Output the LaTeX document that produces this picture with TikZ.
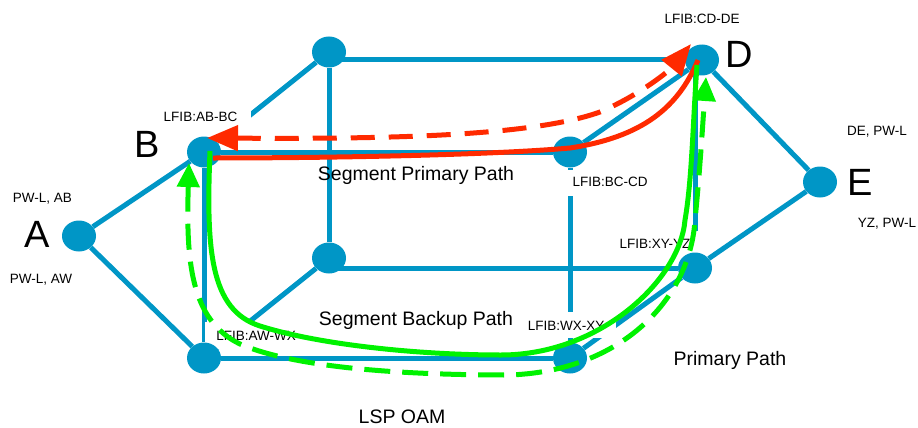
\documentclass[tikz,border=0pt]{standalone}
\usepackage{fontspec}
\setmainfont{Liberation Sans}
\usetikzlibrary{arrows.meta,shapes.geometric}
\definecolor{netblue}{RGB}{0,150,198}
\definecolor{pathred}{RGB}{255,42,0}
\definecolor{pathgreen}{RGB}{0,242,0}
\pgfdeclarelayer{edges}
\pgfdeclarelayer{boxes}
\pgfdeclarelayer{front}
\pgfsetlayers{edges,boxes,main,front}
\tikzset{
  router/.style={ellipse, fill=netblue, draw=none, minimum width=34pt, minimum height=31pt, inner sep=0pt},
  link/.style={draw=netblue, line width=5pt},
  lblbox/.style={fill=white, draw=none, inner sep=0pt},
  small/.style={anchor=base, inner sep=0pt, font=\fontsize{13.5}{16}\selectfont},
  mid/.style={anchor=base, inner sep=0pt, font=\fontsize{19.5}{23}\selectfont},
  big/.style={anchor=base, inner sep=0pt, font=\fontsize{38}{44}\selectfont},
  redline/.style={draw=pathred, line width=5pt},
  reddash/.style={draw=pathred, line width=5pt, dash pattern=on 24pt off 14pt,
    {Triangle[length=31pt,width=25pt]}-{Triangle[length=31pt,width=25pt]}},
  greenline/.style={draw=pathgreen, line width=5pt},
  greendash/.style={draw=pathgreen, line width=5pt, dash pattern=on 26pt off 12pt,
    {Triangle[length=24pt,width=22pt]}-{Triangle[length=24pt,width=22pt]}},
}
\begin{document}
\begin{tikzpicture}[x=1pt,y=-1pt]
\useasboundingbox (0,0) rectangle (918,428);
% routers
\node[router] (A)  at (79,236) {};
\node[router] (B)  at (204,152) {};
\node[router] (T)  at (329,52) {};
\node[router] (D)  at (702,60) {};
\node[router] (C)  at (570,152) {};
\node[router] (E)  at (820,182) {};
\node[router] (Q)  at (329,258) {};
\node[router] (XY) at (695,268) {};
\node[router] (W)  at (204,358) {};
\node[router] (X)  at (570,358) {};
% links
\begin{pgfonlayer}{edges}
\draw[link] (A) -- (B);
\draw[link] (A) -- (W);
\draw[link] (B) -- (T);
\draw[link] (T |- D) -- (D);
\draw[link] (T) -- (Q);
\draw[link] (B) -- (C);
\draw[link] (C) -- (D);
\draw[link] (D) -- (E);
\draw[link] (E) -- (XY);
\draw[link] (Q |- XY) -- (XY);
\draw[link] (C) -- (X);
\draw[link] (XY |- D) -- (XY);
\draw[link] (B) -- (W);
\draw[link] (W) -- (X);
\draw[link] (W) -- (Q);
\draw[link] (X) -- (XY);
\end{pgfonlayer}
% label boxes and labels
\begin{pgfonlayer}{boxes}
\node[lblbox, minimum width=101pt, minimum height=41pt] (bx1) at (200.5,122.5) {};
\node[lblbox, minimum width=98pt, minimum height=26pt] (bx2) at (607,183) {};
\node[lblbox, minimum width=91pt, minimum height=27pt] (bx3) at (655.5,244.5) {};
\node[lblbox, minimum width=96pt, minimum height=26pt] (bx4) at (568,325) {};
\node[lblbox, minimum width=100pt, minimum height=27pt] (bx5) at (255,335.5) {};
\node[small] (l1) at (200.5,121) {LFIB:AB-BC};
\node[small] (l2) at (702,24) {LFIB:CD-DE};
\node[small] (l3) at (610,186) {LFIB:BC-CD};
\node[small] (l4) at (655,248) {LFIB:XY-YZ};
\node[small] (l5) at (566,330) {LFIB:WX-XY};
\node[small] (l6) at (256,340) {LFIB:AW-WX};
\node[small] (p1) at (42.5,202) {PW-L, AB};
\node[small] (p2) at (41,283) {PW-L, AW};
\node[small] (p3) at (877,135) {DE, PW-L};
\node[small] (p4) at (887,227) {YZ, PW-L};
\node[mid] (s1) at (416,180) {Segment Primary Path};
\node[mid] (s2) at (416,325) {Segment Backup Path};
\node[mid] (s3) at (730,365) {Primary Path};
\node[mid] (s4) at (402,423.5) {LSP OAM};
\end{pgfonlayer}
\node[big] (nA) at (37.5,247) {A};
\node[big] (nB) at (147,157) {B};
\node[big] (nD) at (739,67) {D};
\node[big] (nE) at (860,195) {E};
% paths
\begin{pgfonlayer}{front}
\draw[redline] ([shift={(-4,0)}]D.center) .. controls (678,108) and (642,137) .. ([shift={(0,-4)}]C.center)
  .. controls (480,156) and (300,158) .. ([shift={(9,6)}]B.center);
\draw[reddash] ([shift={(3,-14)}]B.center) .. controls (380,139) and (530,137) .. (600,112)
  .. controls (640,95) and (670,70) .. ([shift={(-11,-16)}]D.center);
\draw[greenline] ([shift={(6,-1)}]B.center) .. controls (206,250) and (210,310) .. (260,326)
  .. controls (320,345) and (420,355) .. (501,355)
  .. controls (600,355) and (680,280) .. (685,220)
  .. controls (692,180) and (693,120) .. ([shift={(-5,5)}]D.center);
\draw[greendash] ([shift={(-15,11)}]B.center) .. controls (186,260) and (190,320) .. (240,344)
  .. controls (300,370) and (420,375) .. (508,375)
  .. controls (620,372) and (690,300) .. (695,220)
  .. controls (700,170) and (703,120) .. ([shift={(4,17)}]D.center);
\end{pgfonlayer}
\end{tikzpicture}
\end{document}
